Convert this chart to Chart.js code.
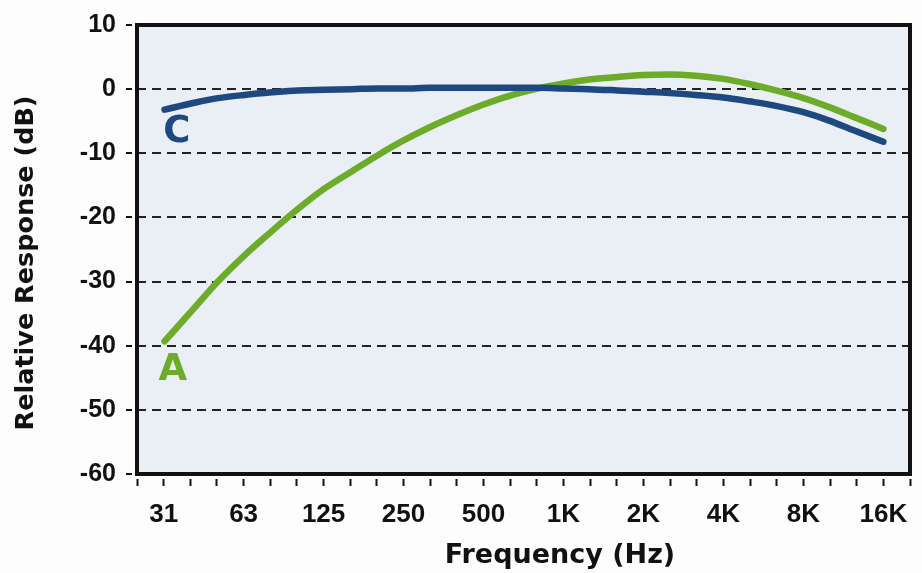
<!DOCTYPE html>
<html>
<head>
<meta charset="utf-8">
<script src="https://cdn.jsdelivr.net/npm/chart.js@4.4.1/dist/chart.umd.min.js"></script>
<style>
  html, body { margin: 0; padding: 0; background: #fdfdfd; }
  canvas { display: block; }
</style>
</head>
<body>
<canvas id="chart" width="922" height="573"></canvas>
<script>
// third-octave band centres (Hz)
const frequencies = [31.5, 40, 50, 63, 80, 100, 125, 160, 200, 250, 315, 400, 500, 630, 800,
  1000, 1250, 1600, 2000, 2500, 3150, 4000, 5000, 6300, 8000, 10000, 12500, 16000];

const aWeighting = [-39.3, -34.5, -30.0, -25.9, -22.1, -18.7, -15.6, -12.8, -10.3, -8.0, -5.9, -4.0, -2.4, -1.0, 0.1,
  0.9, 1.5, 1.9, 2.2, 2.3, 2.1, 1.6, 0.8, -0.2, -1.4, -2.8, -4.4, -6.2];

const cWeighting = [-3.2, -2.2, -1.4, -0.9, -0.5, -0.2, -0.1, 0.0, 0.1, 0.1, 0.2, 0.2, 0.2, 0.2, 0.2,
  0.1, 0.0, -0.2, -0.4, -0.6, -0.9, -1.3, -1.9, -2.6, -3.6, -4.9, -6.5, -8.2];

const octaveLabels = ['31', '63', '125', '250', '500', '1K', '2K', '4K', '8K', '16K'];

const curveLabels = [
  { text: 'C', freq: 35, db: -8.2, color: '#1e4880' },
  { text: 'A', freq: 33.8, db: -45.4, color: '#6cac2a' }
];

const GREEN = '#6cac2a';
const BLUE = '#1e4880';

// tick marks every third of an octave, from 1K * 2^(-16/3) to 1K * 2^(13/3)
const thirdOctaveTicks = [];
for (let n = -16; n <= 13; n++) thirdOctaveTicks.push(1000 * Math.pow(2, n / 3));

const frame = {
  id: 'frame',
  beforeDraw(chart) {
    const { ctx, chartArea: a } = chart;
    ctx.save();
    ctx.fillStyle = '#eaeef5';
    ctx.fillRect(a.left, a.top, a.right - a.left, a.bottom - a.top);
    ctx.restore();
  },
  afterDraw(chart) {
    const { ctx, chartArea: a, scales } = chart;
    ctx.save();
    ctx.strokeStyle = '#111';
    ctx.lineWidth = 4;
    ctx.strokeRect(a.left, a.top, a.right - a.left, a.bottom - a.top);

    ctx.font = 'bold 37px "DejaVu Sans"';
    ctx.textAlign = 'center';
    ctx.textBaseline = 'alphabetic';
    curveLabels.forEach(l => {
      ctx.fillStyle = l.color;
      ctx.fillText(l.text, scales.x.getPixelForValue(l.freq), scales.y.getPixelForValue(l.db));
    });

    ctx.fillStyle = '#111';
    ctx.font = 'bold 27px "DejaVu Sans"';
    ctx.fillText('Frequency (Hz)', 560, 563);

    ctx.translate(33, 263);
    ctx.rotate(-Math.PI / 2);
    ctx.font = 'bold 25.5px "DejaVu Sans"';
    ctx.fillText('Relative Response (dB)', 0, 0);
    ctx.restore();
  }
};

new Chart(document.getElementById('chart'), {
  type: 'line',
  data: {
    labels: frequencies,
    datasets: [
      {
        label: 'C',
        data: frequencies.map((f, i) => ({ x: f, y: cWeighting[i] })),
        borderColor: BLUE,
        borderWidth: 6.5,
        borderCapStyle: 'round',
        pointRadius: 0,
        cubicInterpolationMode: 'monotone'
      },
      {
        label: 'A',
        data: frequencies.map((f, i) => ({ x: f, y: aWeighting[i] })),
        borderColor: GREEN,
        borderWidth: 6.5,
        borderCapStyle: 'round',
        pointRadius: 0,
        cubicInterpolationMode: 'monotone'
      }
    ]
  },
  options: {
    responsive: false,
    animation: false,
    layout: { padding: { top: 23, right: 7, left: 0, bottom: 0 } },
    plugins: { legend: { display: false }, tooltip: { enabled: false } },
    scales: {
      x: {
        type: 'logarithmic',
        min: thirdOctaveTicks[0],
        max: thirdOctaveTicks[thirdOctaveTicks.length - 1],
        afterBuildTicks: (scale) => {
          scale.ticks = thirdOctaveTicks.map(v => ({ value: v }));
        },
        afterFit: (scale) => { scale.height = 99; },
        border: { display: false },
        grid: {
          drawOnChartArea: false,
          drawTicks: true,
          tickLength: 13,
          tickWidth: 2,
          tickColor: '#111',
          tickBorderDash: [0, 5, 7, 40]
        },
        ticks: {
          autoSkip: false,
          maxRotation: 0,
          padding: 12,
          color: '#111',
          font: { family: '"Liberation Sans"', weight: 'bold', size: 26 },
          callback: (value, index) => {
            const n = index - 1;
            return n >= 0 && n % 3 === 0 ? octaveLabels[n / 3] : '';
          }
        }
      },
      y: {
        min: -60,
        max: 10,
        afterFit: (scale) => { scale.width = 137; },
        border: { display: false, dash: [9, 6] },
        grid: {
          color: '#222',
          lineWidth: 2,
          tickLength: 11,
          tickWidth: 2,
          tickColor: '#111',
          tickBorderDash: [6, 30]
        },
        ticks: {
          stepSize: 10,
          padding: 10,
          color: '#111',
          font: { family: '"Liberation Sans"', weight: 'bold', size: 25 }
        }
      }
    }
  },
  plugins: [frame]
});
</script>
</body>
</html>
